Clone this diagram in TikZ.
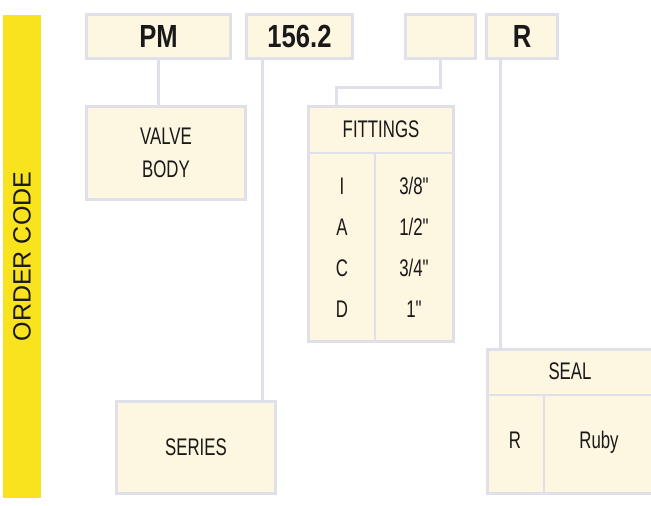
\documentclass[tikz,border=0pt]{standalone}
\usepackage{fontspec}
\setmainfont{Liberation Sans}
\newfontfamily\condf{Liberation Sans}[FakeStretch=0.7]
\newfontfamily\condb{Liberation Sans}[FakeStretch=0.8]
\definecolor{cream}{RGB}{253,246,224}
\definecolor{edge}{RGB}{224,224,234}
\definecolor{ybar}{RGB}{249,226,30}
\definecolor{ink}{RGB}{25,25,25}
\tikzset{
  cbox/.style={draw=edge, fill=cream, line width=3pt, inner sep=0pt, text=ink},
  codetxt/.style={font=\condb\bfseries\fontsize{32}{36}\selectfont},
  lbl/.style={font=\condf\fontsize{24}{33}\selectfont, text=ink, inner sep=0pt, align=center},
  rowtxt/.style={font=\condf\fontsize{24}{33}\selectfont, text=ink, inner sep=0pt, anchor=base},
  conn/.style={draw=edge, line width=3pt},
  rule/.style={draw=edge, line width=2pt}
}
\begin{document}
\begin{tikzpicture}[x=1pt,y=-1pt]
\useasboundingbox (0,0) rectangle (651,506);
% yellow bar
\node[fill=ybar, minimum width=38, minimum height=483, inner sep=0pt] (bar) at (22,256.5) {};
\node[rotate=90, font=\fontsize{25}{28}\selectfont, text=ink, inner sep=0pt] (oc) at (bar.center) {ORDER CODE};
% top code boxes
\node[cbox, codetxt, minimum width=144, minimum height=44] (pm) at (158.5,36.5) {PM};
\node[cbox, codetxt, minimum width=106, minimum height=44] (ser) at (299.5,36.5) {156.2};
\node[cbox, minimum width=70, minimum height=44] (fit) at (440.5,36.5) {};
\node[cbox, codetxt, minimum width=71, minimum height=44] (rc) at (522,36.5) {R};
% valve body
\node[cbox, lbl, minimum width=159, minimum height=93] (vb) at (166,153) {VALVE\\BODY};
% series
\node[cbox, lbl, minimum width=159, minimum height=92] (sr) at (196,447.5) {SERIES};
% fittings table
\node[cbox, minimum width=145, minimum height=235] (ft) at (381,224) {};
\coordinate (fh1) at (308.5,153);
\coordinate (fh2) at (453.5,153);
\coordinate (fc1) at (375,153);
\draw[rule] (fh1) -- (fh2);
\draw[rule] (fc1) -- (fc1 |- ft.south);
\node[lbl] (fth) at (381,129.5) {FITTINGS};
\node[rowtxt] (f1a) at (342,194.5) {I};
\node[rowtxt] (f1b) at (414,194.5) {3/8"};
\node[rowtxt] (f2a) at (342,235.5) {A};
\node[rowtxt] (f2b) at (414,235.5) {1/2"};
\node[rowtxt] (f3a) at (342,276.5) {C};
\node[rowtxt] (f3b) at (414,276.5) {3/4"};
\node[rowtxt] (f4a) at (342,317.5) {D};
\node[rowtxt] (f4b) at (414,317.5) {1"};
% seal table
\node[cbox, minimum width=169, minimum height=144] (sl) at (571.75,421.5) {};
\coordinate (sh1) at (487.5,395);
\coordinate (sh2) at (656,395);
\coordinate (sc1) at (544,395);
\draw[rule] (sh1) -- (sh2);
\draw[rule] (sc1) -- (sc1 |- sl.south);
\node[rowtxt] (sth) at (570,379) {SEAL};
\node[rowtxt] (s1a) at (515,448.5) {R};
\node[rowtxt] (s1b) at (599,448.5) {Ruby};
% connectors
\draw[conn] (pm.south) -- (pm.south |- vb.north);
\coordinate (c156) at (262,58.5);
\draw[conn] (c156) -- (c156 |- sr.north);
\coordinate (fk) at (336,87);
\draw[conn] (fit.south) |- (fk) -- (fk |- ft.north);
\coordinate (rk) at (500,58.5);
\draw[conn] (rk) -- (rk |- sl.north);
\end{tikzpicture}
\end{document}
